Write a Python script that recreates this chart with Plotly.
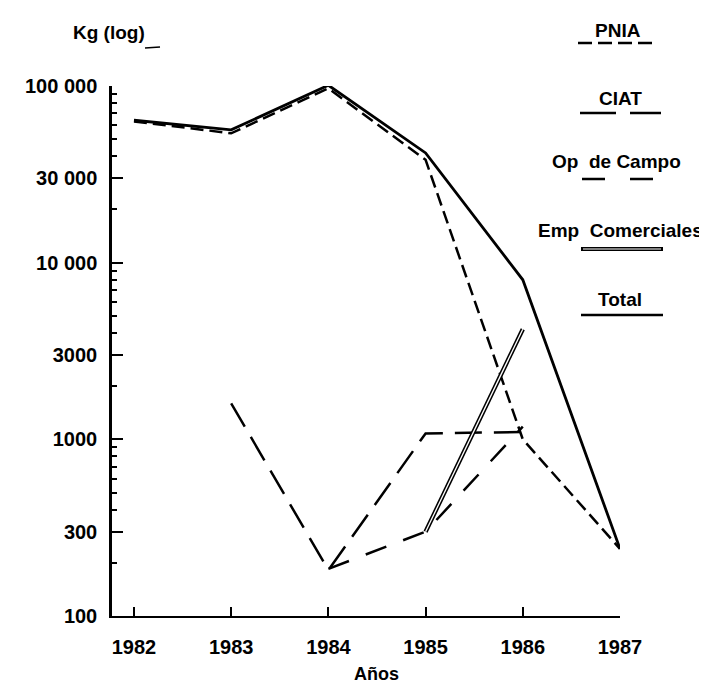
import plotly.graph_objects as go

# ---- data ----
years = [1982, 1983, 1984, 1985, 1986, 1987]
total = [64000, 56500, 101000, 41800, 8000, 240]
pnia = [63000, 54000, 97000, 38200, 1000, 240]
ciat_years = [1983, 1984, 1985, 1986]
ciat = [1600, 182, 1080, 1100]
op_years = [1984, 1985, 1986]
op_campo = [185, 300, 1180]
emp_years = [1985, 1986]
emp_com = [300, 4200]

ytick_vals = [100, 300, 1000, 3000, 10000, 30000, 100000]
ytick_text = ["100", "300", "1000", "3000", "10 000", "30 000", "100 000"]
minor_vals = [m * d for d in (100, 1000, 10000) for m in (2, 4, 5, 6, 7, 8, 9)]

FONT = "Liberation Sans, Arial, Helvetica, sans-serif"
W, H = 707, 689
L, R, T, B = 104, 95, 78, 81
PW, PH = W - L - R, H - T - B


def px(x):
    return (x - L) / PW


def py(y):
    return (H - B - y) / PH


fig = go.Figure()
fig.add_trace(go.Scatter(x=years, y=pnia, mode="lines", name="PNIA",
                         line=dict(color="black", width=2.5, dash="13px,6px")))
fig.add_trace(go.Scatter(x=ciat_years, y=ciat, mode="lines", name="CIAT",
                         line=dict(color="black", width=2.5, dash="27px,12px")))
fig.add_trace(go.Scatter(x=op_years, y=op_campo, mode="lines", name="Op de Campo",
                         line=dict(color="black", width=2.5, dash="22px,18px")))
fig.add_trace(go.Scatter(x=emp_years, y=emp_com, mode="lines", name="Emp Comerciales",
                         line=dict(color="black", width=4.4)))
fig.add_trace(go.Scatter(x=emp_years, y=emp_com, mode="lines", showlegend=False,
                         line=dict(color="white", width=1.3), hoverinfo="skip"))
fig.add_trace(go.Scatter(x=years, y=total, mode="lines", name="Total",
                         line=dict(color="black", width=2.8)))

fig.update_layout(
    width=W, height=H,
    margin=dict(l=L, r=R, t=T, b=B, autoexpand=False),
    paper_bgcolor="white", plot_bgcolor="white",
    showlegend=False,
    font=dict(family=FONT, color="black", size=20, weight="bold"),
)
fig.update_xaxes(
    range=[1981.774, 1987], tickvals=years, ticktext=[str(y) for y in years],
    showgrid=False, zeroline=False, showline=True, linecolor="black", linewidth=2,
    ticks="inside", ticklen=9, tickwidth=2, tickcolor="black",
    ticklabelstandoff=12, automargin=False,
    tickfont=dict(family=FONT, size=20, weight="bold"),
)
fig.update_yaxes(
    type="log", range=[2, 5], tickvals=ytick_vals, ticktext=ytick_text,
    showgrid=False, zeroline=False, showline=True, linecolor="black", linewidth=2.5,
    ticks="inside", ticklen=11, tickwidth=2, tickcolor="black",
    ticklabelstandoff=8, automargin=False,
    tickfont=dict(family=FONT, size=20, weight="bold"),
    minor=dict(tickvals=minor_vals, ticks="inside", ticklen=5, tickwidth=1.5,
               tickcolor="black", showgrid=False),
)

for tr in fig.data:
    tr.cliponaxis = False

# axis titles
fig.add_annotation(text="Kg (log)", x=px(101), y=py(25), xref="paper", yref="paper",
                   showarrow=False, font=dict(family=FONT, size=19, weight="bold"),
                   xanchor="center", yanchor="middle")
fig.add_shape(type="line", xref="paper", yref="paper",
              x0=px(137), x1=px(152), y0=py(40), y1=py(39),
              line=dict(color="black", width=1.5))
fig.add_annotation(text="Años", x=px(368), y=py(666), xref="paper", yref="paper",
                   showarrow=False, font=dict(family=FONT, size=18, weight="bold"),
                   xanchor="center", yanchor="middle", borderpad=0)

# hand-drawn legend on the right
legend_items = [
    ("PNIA", 610, 22, 35, 570, 650, "14px,6px", "plain"),
    ("CIAT", 612, 90, 105, 572, 653, "36px,14px", "plain"),
    ("Op\u00a0\u00a0de Campo", 608, 153, 171, 574, 653, "23px,25px", "plain"),
    ("Emp\u00a0\u00a0Comerciales", 612, 222, 241, 573, 655, "solid", "double"),
    ("Total", 612, 291, 307, 573, 655, "solid", "plain"),
]
for text, tx, ty, ly, x0, x1, dash, kind in legend_items:
    fig.add_annotation(text=text, x=px(tx), y=py(ty), xref="paper", yref="paper",
                       showarrow=False, font=dict(family=FONT, size=19, weight="bold"),
                       xanchor="center", yanchor="middle", borderpad=0)
    fig.add_shape(type="line", xref="paper", yref="paper",
                  x0=px(x0), x1=px(x1), y0=py(ly), y1=py(ly),
                  line=dict(color="black", width=4 if kind == "double" else 2.6, dash=dash))
    if kind == "double":
        fig.add_shape(type="line", xref="paper", yref="paper",
                      x0=px(x0 + 2), x1=px(x1 - 2), y0=py(ly), y1=py(ly),
                      line=dict(color="white", width=1.2))

fig.write_html("out.html")
